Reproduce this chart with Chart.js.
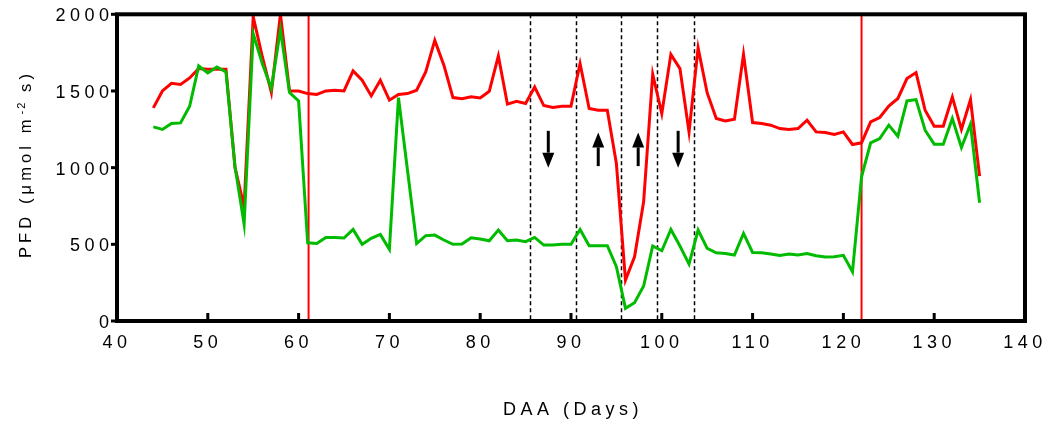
<!DOCTYPE html>
<html>
<head>
<meta charset="utf-8">
<script src="https://cdn.jsdelivr.net/npm/chart.js@4.4.1/dist/chart.umd.min.js"></script>
<style>
    html, body { margin: 0; padding: 0; background: #fff; }
</style>
</head>
<body>
<canvas id="pfd-chart" width="1051" height="423"></canvas>
<script>
// DAA (days after anthesis)
const days = [
    44, 45, 46, 47, 48, 49, 50, 51, 52, 53,
    54, 55, 56, 57, 58, 59, 60, 61, 62, 63,
    64, 65, 66, 67, 68, 69, 70, 71, 72, 73,
    74, 75, 76, 77, 78, 79, 80, 81, 82, 83,
    84, 85, 86, 87, 88, 89, 90, 91, 92, 93,
    94, 95, 96, 97, 98, 99, 100, 101, 102, 103,
    104, 105, 106, 107, 108, 109, 110, 111, 112, 113,
    114, 115, 116, 117, 118, 119, 120, 121, 122, 123,
    124, 125, 126, 127, 128, 129, 130, 131, 132, 133,
    134, 135
];

// PFD - red series
const redPFD = [
    1390, 1500, 1550, 1542, 1585, 1646, 1642, 1642, 1642, 1000,
    745, 1985, 1725, 1490, 2000, 1500, 1500, 1483, 1477, 1500,
    1505, 1500, 1631, 1570, 1468, 1570, 1440, 1477, 1483, 1505,
    1624, 1830, 1668, 1457, 1450, 1462, 1455, 1498, 1729, 1414,
    1433, 1418, 1526, 1405, 1392, 1401, 1401, 1679, 1386, 1375,
    1375, 1027, 267, 419, 777, 1609, 1353, 1739, 1646, 1233,
    1781, 1487, 1320, 1305, 1316, 1739, 1294, 1288, 1277, 1255,
    1249, 1255, 1309, 1233, 1229, 1216, 1233, 1151, 1162, 1298,
    1327, 1401, 1451, 1581, 1620, 1375, 1270, 1270, 1461, 1249,
    1444, 945
];

// PFD - green series
const greenPFD = [
    1266, 1249, 1288, 1292, 1400, 1663, 1618, 1657, 1624, 1005,
    632, 1874, 1679, 1516, 1900, 1490, 1435, 510, 505, 545,
    545, 541, 597, 500, 539, 565, 467, 1457, 980, 505,
    556, 560, 528, 500, 502, 543, 535, 523, 593, 523,
    528, 517, 545, 495, 495, 500, 500, 597, 491, 491,
    491, 354, 83, 119, 228, 489, 458, 597, 489, 371,
    593, 474, 445, 440, 430, 571, 447, 445, 437, 428,
    437, 430, 440, 426, 417, 419, 428, 321, 940, 1162,
    1190, 1277, 1205, 1435, 1444, 1244, 1153, 1153, 1320, 1131,
    1283, 771
];

// 縦線（赤: 期間区切り / 点線: 処理区切り）
const redMarkers = [61.1, 122];
const dashedMarkers = [85.5, 90.5, 95.5, 99.5, 103.5];

// 矢印（日, 始点, 終点）
const arrowDays = [87.5, 93, 97.4, 101.8];
const arrowFrom = [1240, 1010, 1010, 1240];
const arrowTo = [1000, 1230, 1230, 1000];

// 軸目盛
const xTicks = [40, 50, 60, 70, 80, 90, 100, 110, 120, 130, 140];
const yTicks = [0, 500, 1000, 1500, 2000];

const FONT = '"Liberation Sans", Arial, sans-serif';

function toPoints(values) {
    return days.map((d, i) => ({ x: d, y: values[i] }));
}

const decorPlugin = {
    id: 'decor',
    beforeDraw(chart) {
        chart.ctx.letterSpacing = '4.5px';
    },
    beforeDatasetsDraw(chart) {
        const { ctx, chartArea, scales } = chart;
        ctx.save();
        ctx.beginPath();
        ctx.rect(chartArea.left, chartArea.top, chartArea.right - chartArea.left, chartArea.bottom - chartArea.top);
        ctx.clip();

        ctx.strokeStyle = '#ff0000';
        ctx.lineWidth = 2;
        redMarkers.forEach(d => {
            const x = scales.x.getPixelForValue(d);
            ctx.beginPath();
            ctx.moveTo(x, chartArea.top);
            ctx.lineTo(x, chartArea.bottom);
            ctx.stroke();
        });

        ctx.strokeStyle = '#000';
        ctx.lineWidth = 1.5;
        ctx.setLineDash([4, 3]);
        dashedMarkers.forEach(d => {
            const x = Math.round(scales.x.getPixelForValue(d)) + 0.5;
            ctx.beginPath();
            ctx.moveTo(x, chartArea.top);
            ctx.lineTo(x, chartArea.bottom);
            ctx.stroke();
        });
        ctx.restore();
    },
    afterDatasetsDraw(chart) {
        const { ctx, chartArea, scales } = chart;
        ctx.save();

        // 矢印
        ctx.fillStyle = '#000';
        ctx.strokeStyle = '#000';
        ctx.lineWidth = 3;
        arrowDays.forEach((d, i) => {
            const x = scales.x.getPixelForValue(d);
            const y1 = scales.y.getPixelForValue(arrowFrom[i]);
            const y2 = scales.y.getPixelForValue(arrowTo[i]);
            const dir = y2 > y1 ? 1 : -1;
            const headLen = 15;
            ctx.beginPath();
            ctx.moveTo(x, y1);
            ctx.lineTo(x, y2 - dir * headLen);
            ctx.stroke();
            ctx.beginPath();
            ctx.moveTo(x, y2);
            ctx.lineTo(x - 6, y2 - dir * headLen);
            ctx.lineTo(x + 6, y2 - dir * headLen);
            ctx.closePath();
            ctx.fill();
        });

        // 枠
        ctx.lineWidth = 4;
        ctx.strokeRect(chartArea.left, chartArea.top, chartArea.right - chartArea.left, chartArea.bottom - chartArea.top);

        // 目盛線（x: 内向き, y: 外向き）
        ctx.lineWidth = 3;
        xTicks.forEach(v => {
            const x = scales.x.getPixelForValue(v);
            ctx.beginPath();
            ctx.moveTo(x, chartArea.bottom);
            ctx.lineTo(x, chartArea.bottom - 8);
            ctx.stroke();
        });
        yTicks.forEach(v => {
            const y = scales.y.getPixelForValue(v);
            ctx.beginPath();
            ctx.moveTo(chartArea.left, y);
            ctx.lineTo(chartArea.left - 6, y);
            ctx.stroke();
        });

        // x軸タイトル
        ctx.fillStyle = '#000';
        ctx.font = '18px ' + FONT;
        ctx.letterSpacing = '4.5px';
        ctx.textAlign = 'center';
        ctx.textBaseline = 'alphabetic';
        ctx.fillText('DAA (Days)', (chartArea.left + chartArea.right) / 2 + 2, 415);

        // y軸タイトル（上付き文字あり）
        ctx.translate(31, 258);
        ctx.rotate(-Math.PI / 2);
        ctx.textAlign = 'left';
        ctx.font = '16.5px ' + FONT;
        ctx.letterSpacing = '4.1px';
        const main = 'PFD (\u03bcmol m';
        ctx.fillText(main, 0, 0);
        let pos = ctx.measureText(main).width + 1;
        ctx.font = '11px ' + FONT;
        ctx.letterSpacing = '2px';
        ctx.fillText('-2', pos, -6);
        pos += ctx.measureText('-2').width;
        ctx.font = '16.5px ' + FONT;
        ctx.letterSpacing = '4.1px';
        ctx.fillText(' s)', pos, 0);

        ctx.restore();
    }
};

function createChart() {
    const ctx = document.getElementById('pfd-chart');

    new Chart(ctx, {
        type: 'line',
        data: {
            datasets: [
                {
                    label: 'Green',
                    data: toPoints(greenPFD),
                    borderColor: '#00bb00',
                    borderWidth: 3,
                    pointRadius: 0,
                    tension: 0,
                    fill: false
                },
                {
                    label: 'Red',
                    data: toPoints(redPFD),
                    borderColor: '#ff0000',
                    borderWidth: 3,
                    pointRadius: 0,
                    tension: 0,
                    fill: false
                }
            ]
        },
        options: {
            responsive: false,
            animation: false,
            devicePixelRatio: 1,
            layout: {
                padding: { left: 0, right: 24, top: 14, bottom: 0 }
            },
            plugins: {
                legend: { display: false },
                tooltip: { enabled: false }
            },
            scales: {
                x: {
                    type: 'linear',
                    min: 40,
                    max: 140,
                    afterFit: scale => { scale.height = 102; },
                    afterBuildTicks: scale => {
                        scale.ticks = xTicks.map(v => ({ value: v }));
                    },
                    grid: { display: false, drawTicks: false },
                    border: { display: false },
                    ticks: {
                        maxRotation: 0,
                        autoSkip: false,
                        padding: 11,
                        color: '#000',
                        font: { family: FONT, size: 18 },
                        callback: v => String(v)
                    }
                },
                y: {
                    min: 0,
                    max: 2000,
                    afterFit: scale => { scale.width = 117; },
                    afterBuildTicks: scale => {
                        scale.ticks = yTicks.map(v => ({ value: v }));
                    },
                    grid: { display: false, drawTicks: false },
                    border: { display: false },
                    ticks: {
                        padding: 3.5,
                        labelOffset: 2,
                        color: '#000',
                        font: { family: FONT, size: 18 },
                        callback: v => String(v)
                    }
                }
            }
        },
        plugins: [decorPlugin]
    });
}

createChart();
</script>
</body>
</html>
